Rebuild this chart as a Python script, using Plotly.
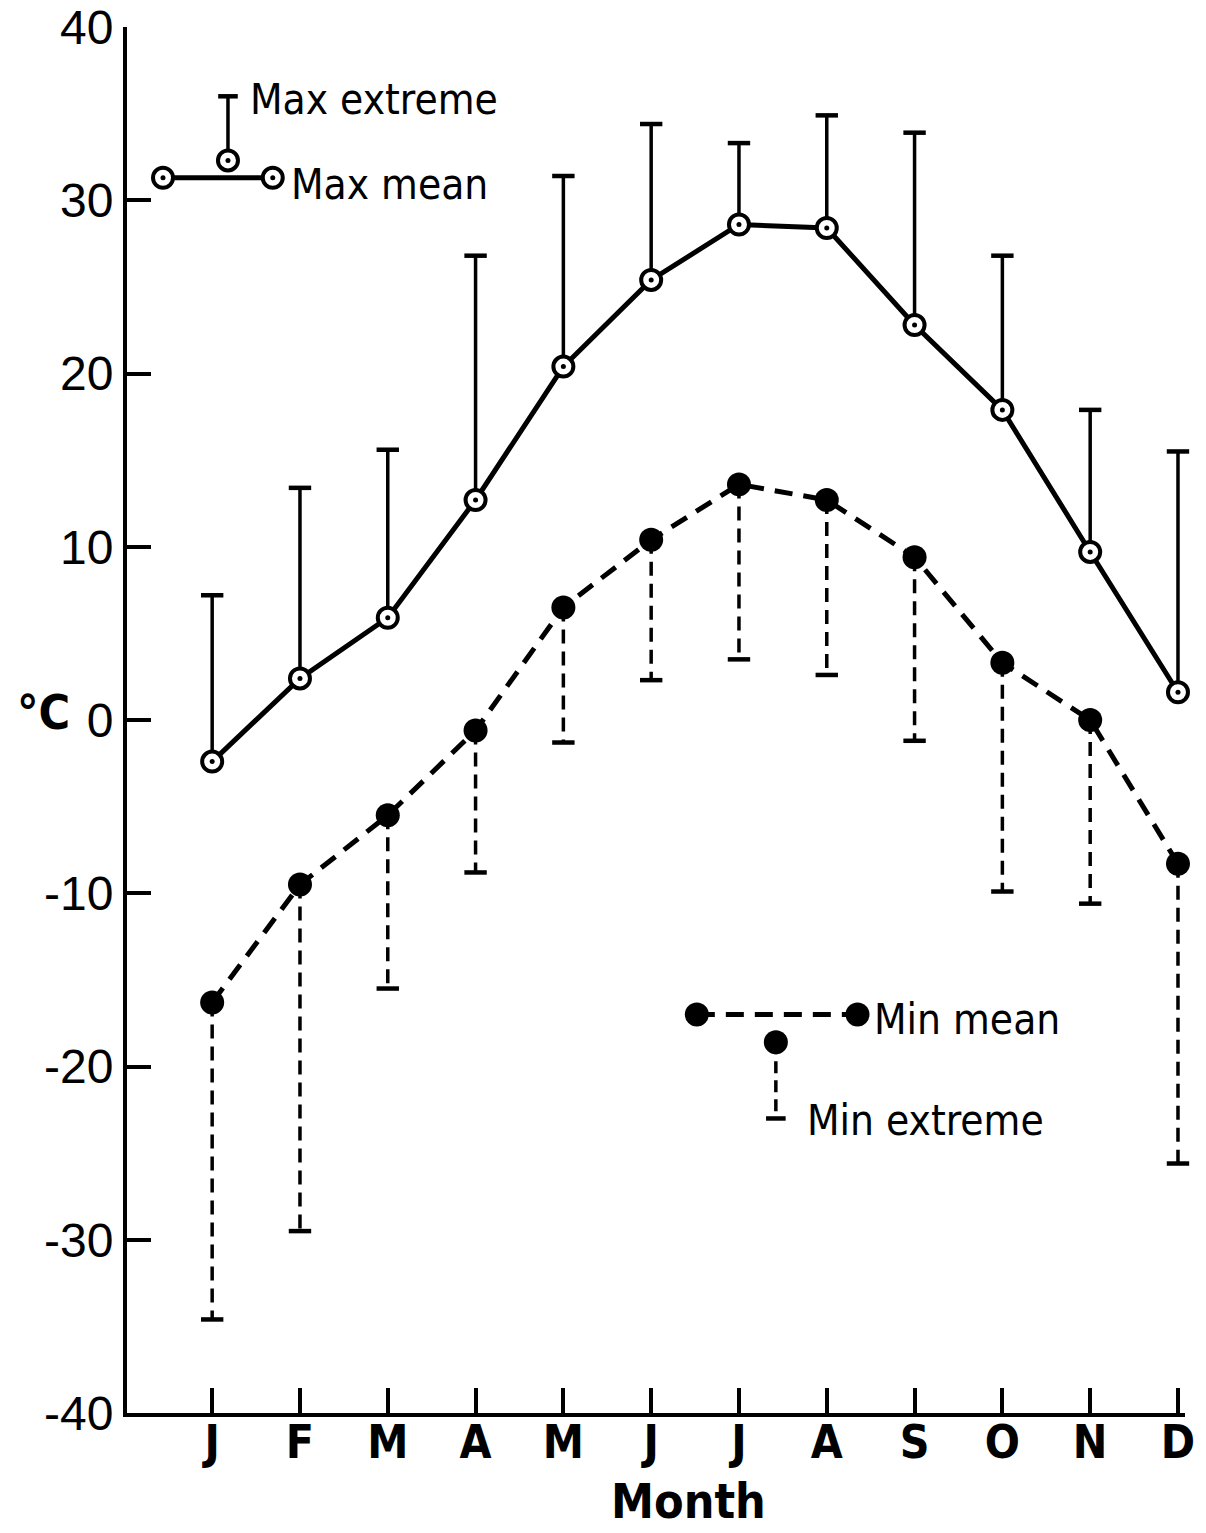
import plotly.graph_objects as go

months = ["J", "F", "M", "A", "M", "J", "J", "A", "S", "O", "N", "D"]
month_pos = list(range(1, 13))
max_mean = [-2.4, 2.4, 5.9, 12.7, 20.4, 25.4, 28.6, 28.4, 22.8, 17.9, 9.7, 1.6]
max_extreme = [7.2, 13.4, 15.6, 26.8, 31.4, 34.4, 33.3, 34.9, 33.9, 26.8, 17.9, 15.5]
min_mean = [-16.3, -9.5, -5.5, -0.6, 6.5, 10.4, 13.6, 12.7, 9.4, 3.3, 0.0, -8.3]
min_extreme = [-34.6, -29.5, -15.5, -8.8, -1.3, 2.3, 3.5, 2.6, -1.2, -9.9, -10.6, -25.6]
y_ticks = [-40, -30, -20, -10, 0, 10, 20, 30, 40]

COND = "DejaVu Sans Condensed, DejaVu Sans, sans-serif"
REG = "Liberation Sans, Arial, sans-serif"
BLACK = "black"


def segments(xs, y0s, y1s):
    sx, sy = [], []
    for x, a, b in zip(xs, y0s, y1s):
        sx += [x, x, None]
        sy += [a, b, None]
    return sx, sy


fig = go.Figure()

# max extreme bars (solid)
ex, ey = segments(month_pos, max_mean, max_extreme)
fig.add_trace(go.Scatter(x=ex, y=ey, mode="lines", line=dict(color=BLACK, width=3.5), hoverinfo="skip"))
fig.add_trace(go.Scatter(x=month_pos, y=max_extreme, mode="markers",
                         marker=dict(symbol="line-ew", size=16, line=dict(color=BLACK, width=4.5)), hoverinfo="skip"))

# min extreme bars (dashed)
nx, ny = segments(month_pos, min_mean, min_extreme)
fig.add_trace(go.Scatter(x=nx, y=ny, mode="lines", line=dict(color=BLACK, width=3.5, dash="14px,8px"), hoverinfo="skip"))
fig.add_trace(go.Scatter(x=month_pos, y=min_extreme, mode="markers",
                         marker=dict(symbol="line-ew", size=16, line=dict(color=BLACK, width=4.5)), hoverinfo="skip"))

# mean lines
fig.add_trace(go.Scatter(x=month_pos, y=max_mean, mode="lines", line=dict(color=BLACK, width=5)))
fig.add_trace(go.Scatter(x=month_pos, y=min_mean, mode="lines", line=dict(color=BLACK, width=5, dash="18px,11px")))

# markers
fig.add_trace(go.Scatter(x=month_pos, y=max_mean, mode="markers",
                         marker=dict(symbol="circle", size=20, color="white", line=dict(color=BLACK, width=4))))
fig.add_trace(go.Scatter(x=month_pos, y=max_mean, mode="markers",
                         marker=dict(symbol="circle", size=5, color=BLACK)))
fig.add_trace(go.Scatter(x=month_pos, y=min_mean, mode="markers",
                         marker=dict(symbol="circle", size=24, color=BLACK)))

# ---- legend glyphs ----
# Max extreme
fig.add_trace(go.Scatter(x=[1.18, 1.18], y=[32.3, 36.0], mode="lines", line=dict(color=BLACK, width=3.5)))
fig.add_trace(go.Scatter(x=[1.18], y=[36.0], mode="markers",
                         marker=dict(symbol="line-ew", size=14, line=dict(color=BLACK, width=4.5))))
# Max mean
fig.add_trace(go.Scatter(x=[0.44, 1.69], y=[31.3, 31.3], mode="lines", line=dict(color=BLACK, width=5)))
leg_open_x = [1.18, 0.44, 1.69]
leg_open_y = [32.3, 31.3, 31.3]
fig.add_trace(go.Scatter(x=leg_open_x, y=leg_open_y, mode="markers",
                         marker=dict(symbol="circle", size=20, color="white", line=dict(color=BLACK, width=4))))
fig.add_trace(go.Scatter(x=leg_open_x, y=leg_open_y, mode="markers",
                         marker=dict(symbol="circle", size=5, color=BLACK)))
# Min mean
fig.add_trace(go.Scatter(x=[6.52, 8.35], y=[-17.0, -17.0], mode="lines",
                         line=dict(color=BLACK, width=5, dash="18px,11px")))
# Min extreme
fig.add_trace(go.Scatter(x=[7.42, 7.42], y=[-18.6, -23.0], mode="lines",
                         line=dict(color=BLACK, width=3.5, dash="12px,7px")))
fig.add_trace(go.Scatter(x=[7.42], y=[-23.0], mode="markers",
                         marker=dict(symbol="line-ew", size=14, line=dict(color=BLACK, width=4.5))))
fig.add_trace(go.Scatter(x=[6.52, 8.35, 7.42], y=[-17.0, -17.0, -18.6], mode="markers",
                         marker=dict(symbol="circle", size=24, color=BLACK)))

fig.update_traces(cliponaxis=False)

legend_font = dict(family=COND, size=42, color=BLACK)
annotations = [
    dict(x=1.41, y=35.8, text="Max extreme", xanchor="left", yanchor="middle", showarrow=False, font=legend_font),
    dict(x=1.88, y=30.9, text="Max mean", xanchor="left", yanchor="middle", showarrow=False, font=legend_font),
    dict(x=8.52, y=-17.3, text="Min mean", xanchor="left", yanchor="middle", showarrow=False, font=legend_font),
    dict(x=7.75, y=-23.1, text="Min extreme", xanchor="left", yanchor="middle", showarrow=False, font=legend_font),
    dict(x=-0.106, xref="paper", y=0.506, yref="paper", text="<b>°C</b>", xanchor="left", yanchor="middle",
         showarrow=False, font=dict(family=COND, size=48, color=BLACK)),
    dict(x=0.531, xref="paper", y=-0.0635, yref="paper", text="<b>Month</b>", xanchor="center", yanchor="middle",
         showarrow=False, font=dict(family=COND, size=48, color=BLACK)),
]

fig.update_layout(
    width=1206, height=1533,
    margin=dict(l=127, r=21, t=27, b=120),
    paper_bgcolor="white", plot_bgcolor="white",
    showlegend=False,
    annotations=annotations,
    xaxis=dict(range=[0.03, 12.08], tickmode="array", tickvals=month_pos, ticktext=months,
               ticks="inside", ticklen=25, tickwidth=4, tickcolor=BLACK, automargin=False,
               ticklabelstandoff=-14,
               showline=True, linecolor=BLACK, linewidth=4, showgrid=False, zeroline=False,
               tickfont=dict(family=COND, size=46, color=BLACK, weight="bold")),
    yaxis=dict(range=[-40, 40], tickmode="array", tickvals=y_ticks, ticktext=[str(v) for v in y_ticks],
               ticks="inside", ticklen=24, tickwidth=4, tickcolor=BLACK, automargin=False,
               showline=True, linecolor=BLACK, linewidth=4, showgrid=False, zeroline=False,
               tickfont=dict(family=REG, size=48, color=BLACK)),
)

fig.write_html("out.html")
